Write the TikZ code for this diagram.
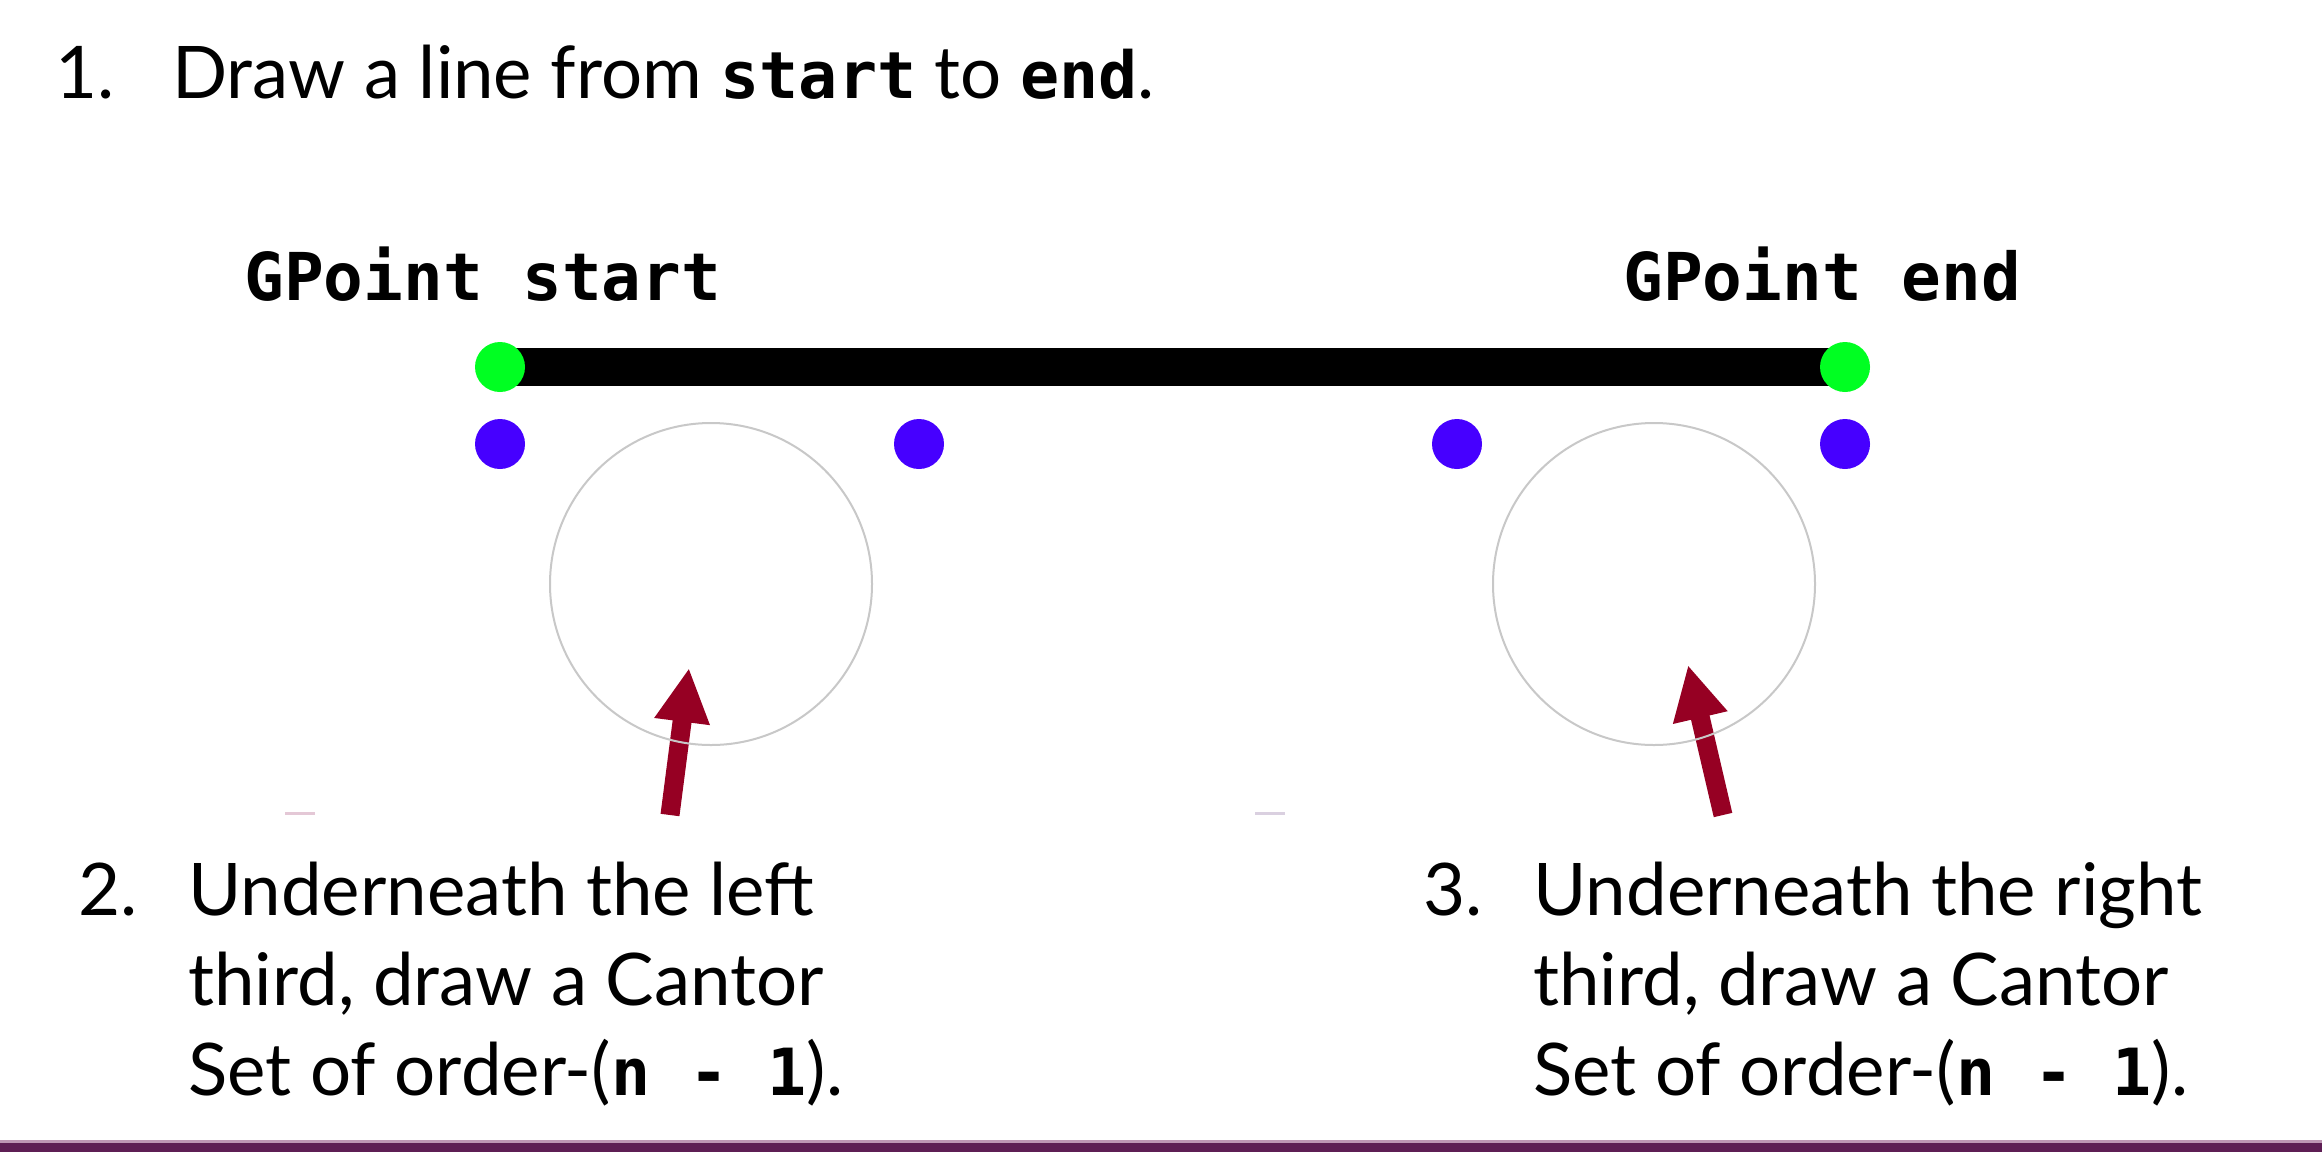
\documentclass[tikz,border=0pt]{standalone}
\usepackage{fontspec}
\setmainfont{Lato}
\newfontfamily\codefont{DejaVu Sans Mono}
\usetikzlibrary{arrows.meta}
\definecolor{gptgreen}{RGB}{0,255,34}
\definecolor{gptblue}{RGB}{70,0,255}
\definecolor{arrowred}{RGB}{150,0,35}
\definecolor{circgray}{RGB}{200,200,200}
\definecolor{barpurple}{RGB}{94,30,84}
\definecolor{barlight}{RGB}{190,150,180}
\definecolor{markpink}{RGB}{228,200,214}
\definecolor{markgray}{RGB}{218,208,224}
\newcommand\mcode[1]{{\fontsize{32.5}{40}\selectfont\codefont\bfseries #1}}
\begin{document}
\begin{tikzpicture}[x=0.5pt,y=-0.5pt,
 txt/.style={inner sep=0pt, anchor=base west, font=\fontsize{36.3}{44}\selectfont},
 lbl/.style={inner sep=0pt, anchor=base west, font=\fontsize{33}{40}\selectfont\codefont\bfseries},
 gdot/.style={circle, fill=gptgreen, minimum size=25pt, inner sep=0pt},
 bdot/.style={circle, fill=gptblue, minimum size=25pt, inner sep=0pt},
 ring/.style={circle, draw=circgray, line width=1pt, minimum size=161pt, inner sep=0pt},
 pointer/.style={draw=arrowred, line width=9.5pt, -{Triangle[length=27pt,width=26pt]}},
 faint/.style={line width=1.5pt},
]
\useasboundingbox (0,0) rectangle (2322,1152);
\fill[white] (0,0) rectangle (2322,1152);

% step 1
\node[txt] (n1) at (55,98) {1.};
\node[txt] (t1) at (172,98) {Draw a line from \mcode{start} to \mcode{end}.};

% labels
\node[lbl] (ls) at (244,300) {GPoint start};
\node[lbl] (le) at (1623,300) {GPoint end};

% main line
\coordinate (S) at (500,367);
\coordinate (E) at (1845,367);
\draw[line width=19pt] (S) -- (E);
\node[gdot] (s) at (S) {};
\node[gdot] (e) at (E) {};

% thirds
\node[bdot] (b1) at (500,444) {};
\node[bdot] (b2) at (919,444) {};
\node[bdot] (b3) at (1457,444) {};
\node[bdot] (b4) at (1845,444) {};

% arrows
\coordinate (aLt) at (670,815);
\coordinate (aLh) at (689,668);
\coordinate (aRt) at (1723,815);
\coordinate (aRh) at (1688,665);
\draw[pointer] (aLt) -- (aLh);
\draw[pointer] (aRt) -- (aRh);

% circles
\node[ring] (c1) at (711,584) {};
\node[ring] (c2) at (1654,584) {};

% faint marks
\coordinate (m1a) at (285,813);
\coordinate (m1b) at (315,813);
\coordinate (m2a) at (1255,813);
\coordinate (m2b) at (1285,813);
\draw[faint, markpink] (m1a) -- (m1b);
\draw[faint, markgray] (m2a) -- (m2b);

% step 2
\node[txt] (n2) at (78,915) {2.};
\node[txt] (t2a) at (188,915) {Underneath the left};
\node[txt] (t2b) at (188,1005) {third, draw a Cantor};
\node[txt] (t2c) at (188,1095) {Set of order-(\mcode{n - 1}).};

% step 3
\node[txt] (n3) at (1423,915) {3.};
\node[txt] (t3a) at (1533,915) {Underneath the right};
\node[txt] (t3b) at (1533,1005) {third, draw a Cantor};
\node[txt] (t3c) at (1533,1095) {Set of order-(\mcode{n - 1}).};

% bottom bar
\fill[barpurple] (0,1140) rectangle (2322,1152);
\fill[barlight] (0,1140) rectangle (2322,1142.5);
\end{tikzpicture}
\end{document}
